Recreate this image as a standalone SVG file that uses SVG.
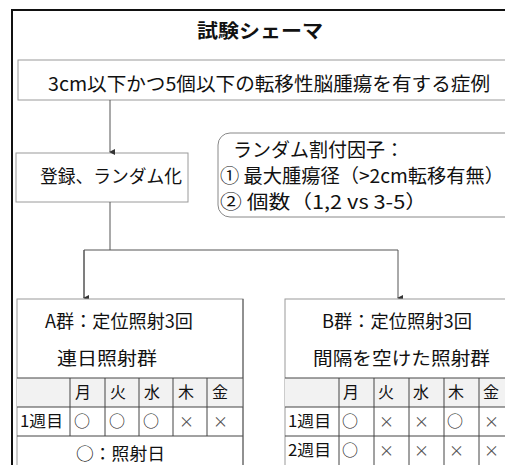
<svg xmlns="http://www.w3.org/2000/svg" width="505" height="465" viewBox="0 0 505 465">
<style>
text{font-family:"Noto Sans CJK JP","Noto Sans",sans-serif;fill:#111}
.box{fill:#fff;stroke:#9a9a9a;stroke-width:1}
.grid{stroke:#444;stroke-width:1;fill:none}
.hdr{fill:#f2f2f2;stroke:none}
.cell{font-size:16px}
.x{font-size:15px;fill:#555}
.conn{stroke:#555;stroke-width:1;fill:none}
</style>
<defs>
<marker id="ah" markerWidth="6" markerHeight="6" refX="3" refY="5" orient="auto" markerUnits="userSpaceOnUse" viewBox="0 0 6 6">
<path d="M0,0 L6,0 L3,6 Z" fill="#333"/>
</marker>
</defs>
<rect x="0" y="0" width="505" height="465" fill="#fff"/>
<rect x="12" y="10" width="510" height="470" fill="none" stroke="#111" stroke-width="2"/>
<g id="title"><text x="197" y="38" font-size="19" font-weight="bold" textLength="126" lengthAdjust="spacingAndGlyphs">試験シェーマ</text></g>
<g id="patients">
<rect class="box" x="18" y="60" width="500" height="40"/>
<text x="48" y="91" font-size="19" textLength="442" lengthAdjust="spacingAndGlyphs">3cm以下かつ5個以下の転移性脳腫瘍を有する症例</text>
</g>
<g id="randomize">
<rect class="box" x="16" y="153" width="172" height="49" stroke="#888"/>
<text x="40" y="183" font-size="18" textLength="142" lengthAdjust="spacingAndGlyphs">登録、ランダム化</text>
</g>
<g id="factors">
<rect x="218" y="133" width="310" height="84" rx="12" ry="12" fill="#fff" stroke="#888"/>
<text x="233" y="157" font-size="19">ランダム割付因子：</text>
<text x="220" y="183" font-size="19" textLength="284" lengthAdjust="spacingAndGlyphs">① 最大腫瘍径（&gt;2cm転移有無）</text>
<text x="220" y="209" font-size="19" textLength="207" lengthAdjust="spacingAndGlyphs">② 個数（1,2 vs 3-5）</text>
</g>
<g id="connectors">
<line class="conn" x1="110" y1="100" x2="110" y2="152" marker-end="url(#ah)"/>
<line class="conn" x1="110" y1="202" x2="110" y2="250" stroke="#999"/>
<polyline class="conn" points="84,298 84,250 398,250" stroke="#777"/>
<line class="conn" x1="84" y1="250" x2="84" y2="298" stroke="#777" marker-end="url(#ah)"/>
<line class="conn" x1="398" y1="250" x2="398" y2="298" stroke="#777" marker-end="url(#ah)"/>
</g>
<g id="groupA">
<rect class="box" x="17" y="299" width="226" height="180" stroke="#999"/>
<text x="45" y="328" font-size="18" textLength="148" lengthAdjust="spacingAndGlyphs">A群：定位照射3回</text>
<text x="57" y="365" font-size="18" textLength="100" lengthAdjust="spacingAndGlyphs">連日照射群</text>
<rect class="hdr" x="17" y="378" width="226" height="29"/>
<path class="grid" d="M17,378H243M17,407H243M17,436H243M70,378V436M105,378V436M139,378V436M173,378V436M207,378V436"/>
<line x1="243" y1="299" x2="243" y2="480" stroke="#555"/>
<g class="cell">
<text x="75" y="398">月</text><text x="110" y="398">火</text><text x="144" y="398">水</text><text x="178" y="398">木</text><text x="212" y="398">金</text>
<text x="20" y="427" textLength="43" lengthAdjust="spacingAndGlyphs">1週目</text>
<text x="74" y="427">○</text><text x="109" y="427">○</text><text x="143" y="427">○</text>
<text class="x" x="179" y="427">×</text><text class="x" x="213" y="427">×</text>
</g>
<text x="76" y="460" font-size="17" textLength="89" lengthAdjust="spacingAndGlyphs">○：照射日</text>
</g>
<g id="groupB">
<rect class="box" x="285" y="299" width="240" height="180" stroke="#666"/>
<text x="322" y="328" font-size="18" textLength="150" lengthAdjust="spacingAndGlyphs">B群：定位照射3回</text>
<text x="313" y="365" font-size="18" textLength="177" lengthAdjust="spacingAndGlyphs">間隔を空けた照射群</text>
<rect class="hdr" x="285" y="378" width="240" height="29"/>
<path class="grid" d="M285,378H525M285,407H525M285,436H525M339,378V470M374,378V470M409,378V470M444,378V470M479,378V470M514,378V470"/>
<g class="cell">
<text x="343" y="398">月</text><text x="378" y="398">火</text><text x="413" y="398">水</text><text x="448" y="398">木</text><text x="483" y="398">金</text>
<text x="288" y="427" textLength="43" lengthAdjust="spacingAndGlyphs">1週目</text>
<text x="342" y="427">○</text><text class="x" x="379" y="427">×</text><text class="x" x="414" y="427">×</text><text x="447" y="427">○</text><text class="x" x="484" y="427">×</text>
<text x="288" y="456" textLength="43" lengthAdjust="spacingAndGlyphs">2週目</text>
<text x="342" y="456">○</text><text class="x" x="379" y="456">×</text><text class="x" x="414" y="456">×</text><text class="x" x="449" y="456">×</text><text class="x" x="484" y="456">×</text>
</g>
</g>
</svg>
